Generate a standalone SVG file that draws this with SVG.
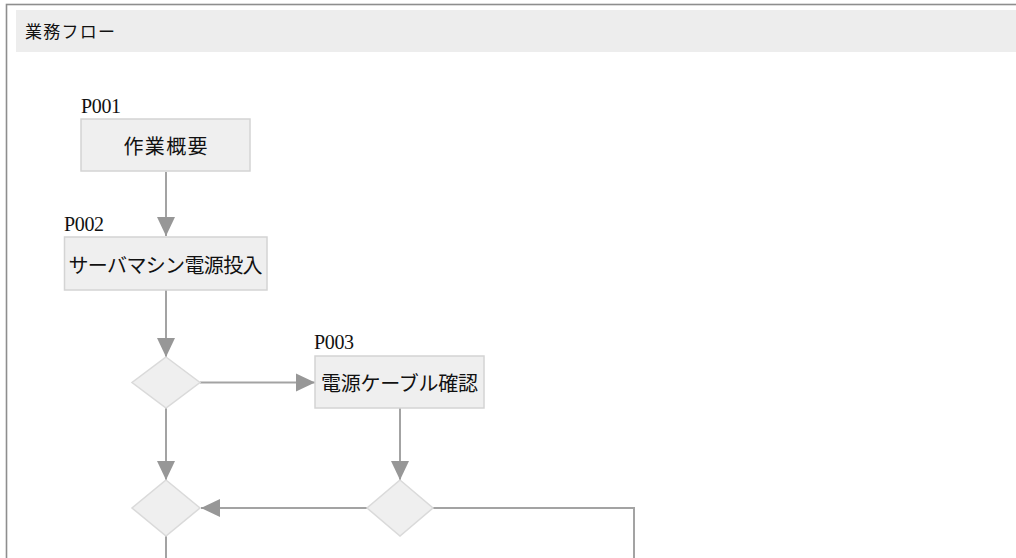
<svg xmlns="http://www.w3.org/2000/svg" width="1016" height="558" viewBox="0 0 1016 558">
<style>
.box{fill:#efefef;stroke:#d4d4d4;stroke-width:1.5}
.dia{fill:#efefef;stroke:#dadada;stroke-width:1.5}
.lbl{font-family:"Liberation Serif","Times New Roman",serif;font-size:20px;fill:#111}
.txt{font-family:"Noto Sans CJK JP","Noto Sans",sans-serif;font-size:20px;fill:#111;text-anchor:middle;dominant-baseline:central}
.conn{fill:none;stroke:#a3a3a3;stroke-width:2}
</style>
<defs>
<marker id="arr" markerUnits="userSpaceOnUse" markerWidth="20" markerHeight="20" viewBox="0 0 20 18" refX="19" refY="9" orient="auto">
<path d="M0,0 L19,9 L0,18 z" fill="#979797"/>
</marker>
</defs>
<rect x="0" y="0" width="1016" height="558" fill="#fff"/>
<rect x="6.5" y="4.5" width="1020" height="570" fill="#fff" stroke="#8e8e8e" stroke-width="1.6"/>
<g id="header">
<rect x="16" y="10" width="1000" height="42" fill="#ededed"/>
<text x="25" y="30.5" font-family="'Noto Sans CJK JP','Noto Sans',sans-serif" font-size="17" fill="#111" dominant-baseline="central" textLength="90">業務フロー</text>
</g>
<g id="connectors">
<line class="conn" x1="166" y1="172" x2="166" y2="236" marker-end="url(#arr)"/>
<line class="conn" x1="166" y1="290" x2="166" y2="357" marker-end="url(#arr)"/>
<line class="conn" x1="200" y1="382.5" x2="315" y2="382.5" marker-end="url(#arr)"/>
<line class="conn" x1="166" y1="408" x2="166" y2="480" marker-end="url(#arr)"/>
<line class="conn" x1="400" y1="408" x2="400" y2="480" marker-end="url(#arr)"/>
<line class="conn" x1="367" y1="508" x2="201" y2="508" marker-end="url(#arr)"/>
<polyline class="conn" points="433,508 634,508 634,560"/>
<line class="conn" x1="166" y1="536" x2="166" y2="560"/>
</g>
<g id="P001">
<text class="lbl" x="81" y="113" textLength="40">P001</text>
<rect class="box" x="81" y="119" width="169" height="52"/>
<text class="txt" x="165.5" y="145" font-size="21" textLength="84">作業概要</text>
</g>
<g id="P002">
<text class="lbl" x="64" y="231" textLength="40">P002</text>
<rect class="box" x="64.5" y="237" width="202.5" height="53"/>
<text class="txt" x="165.5" y="264" textLength="194">サーバマシン電源投入</text>
</g>
<g id="D1">
<polygon class="dia" points="166,357 200,382.5 166,408 132,382.5"/>
</g>
<g id="P003">
<text class="lbl" x="314" y="349" textLength="40">P003</text>
<rect class="box" x="315" y="356" width="169" height="52"/>
<text class="txt" x="399.5" y="382.5" textLength="157">電源ケーブル確認</text>
</g>
<g id="D2">
<polygon class="dia" points="400,480 433,508 400,536 367,508"/>
</g>
<g id="D3">
<polygon class="dia" points="166,480 200,508 166,536 132,508"/>
</g>
</svg>
